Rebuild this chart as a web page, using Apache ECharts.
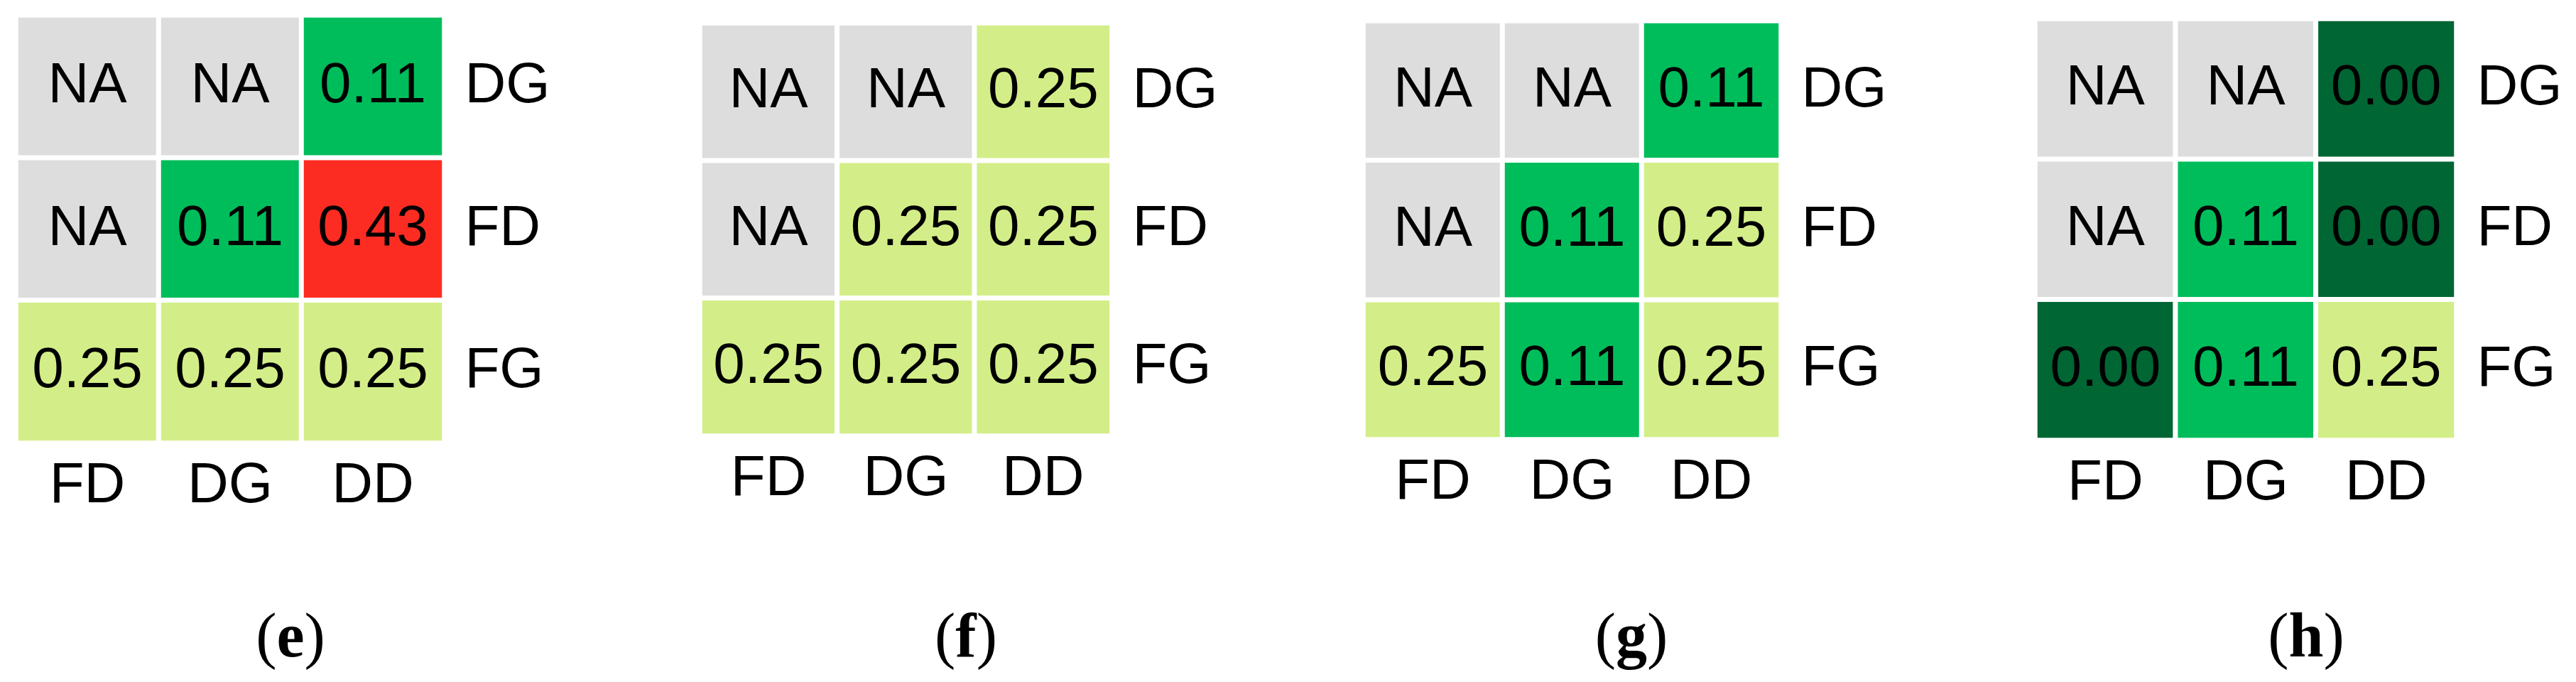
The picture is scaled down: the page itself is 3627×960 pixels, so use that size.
<!DOCTYPE html>
<html style="height: 100%">
<head>
    <meta charset="utf-8">
</head>
<body style="width:3627px;height:960px;margin:0;background:#ffffff">
<div id="container" style="width:3627px;height:960px;"></div>
<script type="text/javascript" src="https://cdn.jsdelivr.net/npm/echarts@6/dist/echarts.min.js"></script>
<script type="text/javascript">
// axis categories
var cols = ['FD', 'DG', 'DD'];
var rows = ['FG', 'FD', 'DG'];          // bottom to top
var panelNames = ['e', 'f', 'g', 'h'];

// cell values, rows listed top (DG) to bottom (FG); null = NA
var valuesE = [[null, null, 0.11], [null, 0.11, 0.43], [0.25, 0.25, 0.25]];
var valuesF = [[null, null, 0.25], [null, 0.25, 0.25], [0.25, 0.25, 0.25]];
var valuesG = [[null, null, 0.11], [null, 0.11, 0.25], [0.25, 0.11, 0.25]];
var valuesH = [[null, null, 0.00], [null, 0.11, 0.00], [0.00, 0.11, 0.25]];
var panels = [valuesE, valuesF, valuesG, valuesH];

// layout of the four panels (px)
var boxes = [
    {left: 22.5,   top: 21.5, width: 603, height: 602, cap: 409},
    {left: 985.5,  top: 32.5, width: 580, height: 581, cap: 1360},
    {left: 1919.5, top: 29.5, width: 588, height: 589, cap: 2297},
    {left: 2865.5, top: 26.5, width: 593, height: 593, cap: 3247}
];

var sans = '"Liberation Sans", Arial, sans-serif';
var serif = '"Liberation Serif", "Times New Roman", serif';

var dom = document.getElementById('container');
var myChart = echarts.init(dom);

var grid = [], xAxis = [], yAxis = [], series = [], graphic = [], valueSeries = [];

panels.forEach(function (vals, p) {
    var b = boxes[p];
    grid.push({left: b.left, top: b.top, width: b.width, height: b.height, containLabel: false});
    xAxis.push({
        type: 'category', gridIndex: p, data: cols, position: 'bottom',
        axisLine: {show: false}, axisTick: {show: false}, splitLine: {show: false},
        axisLabel: {fontSize: 80, color: '#000', fontFamily: sans, margin: 21}
    });
    yAxis.push({
        type: 'category', gridIndex: p, data: rows, position: 'right',
        axisLine: {show: false}, axisTick: {show: false}, splitLine: {show: false},
        axisLabel: {fontSize: 80, color: '#000', fontFamily: sans, margin: 29, align: 'left'}
    });

    var naData = [], numData = [];
    vals.forEach(function (row, i) {
        row.forEach(function (v, j) {
            var y = rows.length - 1 - i;
            if (v === null) naData.push([j, y, 0]);
            else numData.push([j, y, v]);
        });
    });

    var cellStyle = {borderColor: '#ffffff', borderWidth: 7};
    var lbl = {show: true, fontSize: 80, color: '#000', fontFamily: sans};

    series.push({
        type: 'heatmap', xAxisIndex: p, yAxisIndex: p, data: naData,
        itemStyle: Object.assign({color: '#dddddd'}, cellStyle),
        label: Object.assign({formatter: 'NA'}, lbl),
        emphasis: {disabled: true}
    });
    valueSeries.push(series.length);
    series.push({
        type: 'heatmap', xAxisIndex: p, yAxisIndex: p, data: numData,
        itemStyle: cellStyle,
        label: Object.assign({formatter: function (q) { return q.value[2].toFixed(2); }}, lbl),
        emphasis: {disabled: true}
    });

    graphic.push({
        type: 'text', x: b.cap, y: 901,
        style: {
            text: '({b|' + panelNames[p] + '})',
            textAlign: 'center', textVerticalAlign: 'middle',
            fontFamily: serif, fontSize: 88, fontWeight: 'normal', fill: '#000',
            rich: {b: {fontFamily: serif, fontSize: 88, fontWeight: 'bold', fill: '#000'}}
        }
    });
});

var option = {
    animation: false,
    grid: grid,
    xAxis: xAxis,
    yAxis: yAxis,
    visualMap: {
        type: 'piecewise', show: false, dimension: 2, seriesIndex: valueSeries,
        pieces: [
            {lt: 0.05, color: '#006633'},
            {gte: 0.05, lt: 0.18, color: '#00bd5b'},
            {gte: 0.18, lt: 0.34, color: '#d3ee88'},
            {gte: 0.34, color: '#fc2c22'}
        ]
    },
    graphic: graphic,
    series: series
};
myChart.setOption(option, true);
</script>
</body>
</html>
